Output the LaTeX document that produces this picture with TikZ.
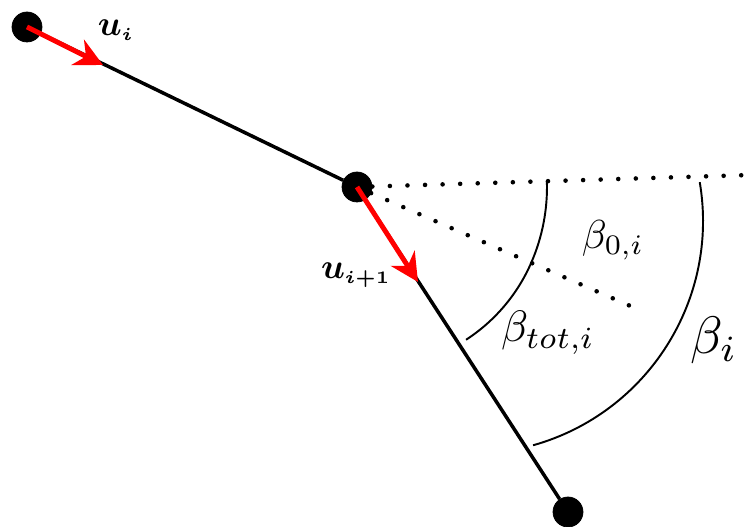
\documentclass[tikz,border=0pt]{standalone}
\usepackage{amsmath,bm}
\usetikzlibrary{arrows.meta, positioning, calc}

\begin{document}
\begin{tikzpicture}[
    joint/.style={draw, circle, fill=black, minimum size=6mm, inner sep=0pt},
    segment/.style={line width=2pt},
    dir arrow/.style={-{Stealth[length=16pt, width=16pt]}, red, line width=2.8pt},
    ref line/.style={line width=2.6pt, line cap=round, dash pattern=on 0pt off 10pt},
    angle arc/.style={line width=1.1pt},
    vec label/.style={scale=2.0},
    angle label/.style={scale=2.5}
]
\useasboundingbox (0,0) rectangle (15,10.54);

% Joints
\node[joint] (A) at (0.54,10.0) {};
\node[joint] (B) at (7.14,6.80) {};
\node[joint] (C) at (11.36,0.30) {};

% Free ends
\coordinate (uTip1) at (2.06,9.24);
\coordinate (uTip2) at (8.36,4.90);
\coordinate (H) at (15.0,7.04);
\coordinate (D) at (12.7,4.38);

% Segments
\draw[segment] (A) -- (B);
\draw[segment] (B) -- (C);

% Reference lines
\draw[ref line] (B) -- (H);
\draw[ref line] (B) -- (D);

% Unit vectors
\draw[dir arrow] (A.center) -- (uTip1);
\draw[dir arrow] (B.center) -- (uTip2);
\node[vec label] (ui) at (2.32,9.94) {$\bm{u}_{\scriptscriptstyle\bm{i}}$};
\node[vec label] (ui1) at (7.12,5.04) {$\bm{u}_{\scriptscriptstyle\bm{i+1}}$};

% Angle arcs
\draw[angle arc] ($(B.center)+(1.75:3.8)$) arc[start angle=1.75, end angle=-23.5, radius=3.8]
    arc[start angle=-23.5, end angle=-57, radius=3.5];
\draw[angle arc] (13.995,6.897) arc[start angle=9.6, end angle=-74.3, radius=4.66];

% Angle labels
\node[angle label, scale=0.92] (b0) at (12.26,5.74) {$\beta_{0,i}$};
\node[angle label] (btot) at (10.96,3.88) {$\beta_{tot,i}$};
\node[angle label, scale=1.2] (bi) at (14.28,3.74) {$\beta_i$};

\end{tikzpicture}
\end{document}
